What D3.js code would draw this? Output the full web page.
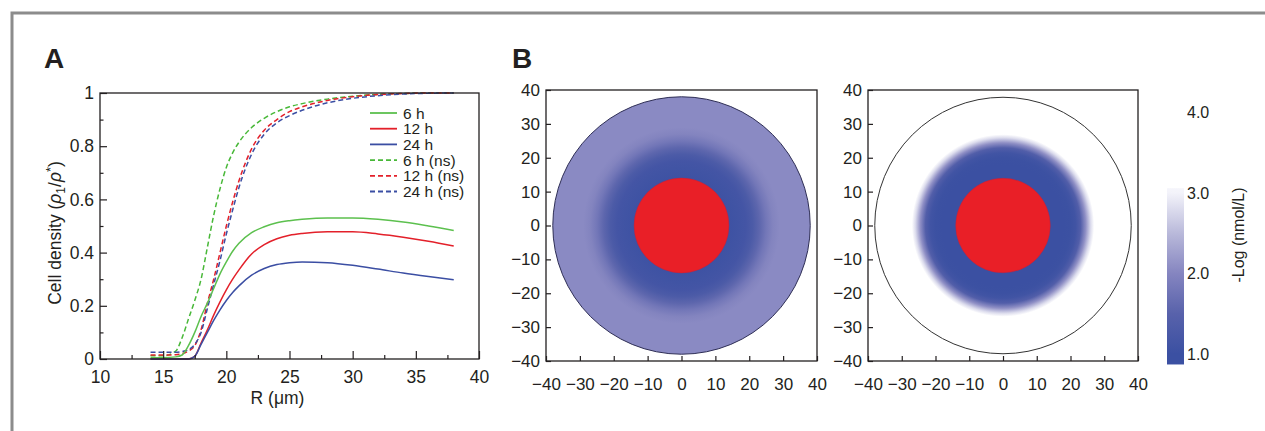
<!DOCTYPE html>
<html><head><meta charset="utf-8">
<script src="https://cdn.jsdelivr.net/npm/d3@7"></script>
<style>
body{margin:0;background:#fff}
svg{display:block}
text{font-family:"Liberation Sans",Arial,Helvetica,sans-serif;fill:#231f20}
</style>
</head><body>
<svg id="c" width="1265" height="431"></svg>
<script>
// ---------- DATA ----------
// Panel A: cell density vs R
const rValues = [14,15,16,16.5,17,17.5,18,18.5,19,19.5,20,20.5,21,22,23,24,25,26,28,30,32,34,36,38];
const solid6h  = [0.005,0.005,0.008,0.015,0.05,0.10,0.16,0.21,0.265,0.32,0.365,0.405,0.435,0.475,0.497,0.512,0.52,0.525,0.53,0.53,0.525,0.515,0.50,0.483];
const solid12h = [0,0,0,0,0,0.01,0.06,0.11,0.165,0.215,0.26,0.30,0.335,0.395,0.43,0.452,0.465,0.472,0.478,0.478,0.47,0.458,0.443,0.425];
const solid24h = [0,0,0,0,0,0.01,0.055,0.10,0.145,0.185,0.22,0.25,0.275,0.315,0.34,0.355,0.362,0.365,0.362,0.352,0.338,0.323,0.31,0.298];
const ns6h  = [0.012,0.012,0.03,0.08,0.15,0.22,0.30,0.42,0.54,0.64,0.72,0.775,0.815,0.87,0.905,0.93,0.948,0.96,0.977,0.988,0.995,0.998,1,1];
const ns12h = [0.015,0.015,0.016,0.02,0.03,0.05,0.11,0.21,0.30,0.40,0.50,0.59,0.67,0.79,0.86,0.90,0.93,0.948,0.972,0.986,0.994,0.998,1,1];
const ns24h = [0.025,0.025,0.025,0.028,0.035,0.055,0.10,0.19,0.28,0.37,0.47,0.56,0.645,0.77,0.845,0.888,0.915,0.935,0.963,0.98,0.99,0.996,0.999,1];
const seriesNames = ["6 h","12 h","24 h","6 h (ns)","12 h (ns)","24 h (ns)"];
const xTicksA = [10,15,20,25,30,35,40];
const xMinorA = [12.5,17.5,22.5,27.5,32.5,37.5];
const yTicksA = [0,0.2,0.4,0.6,0.8,1];
const yTickLabelsA = ["0","0.2","0.4","0.6","0.8","1"];
const yMinorA = [0.1,0.3,0.5,0.7,0.9];

// Panel B: radial concentration profiles (-log nmol/L) vs radius
const domainRadius = 38;
const cellRadius = 14;
const leftRadii  = [14,17,19,21,23,25,27,29,38];
const leftLogC   = [1.05,1.1,1.15,1.3,1.55,1.8,1.98,2.05,2.05];
const rightRadii = [14,18,20,21.5,23,24.5,26,27,38];
const rightLogC  = [1.0,1.0,1.02,1.1,1.4,2.1,2.8,3.3,3.5];
const bTicks = [-40,-30,-20,-10,0,10,20,30,40];
const bTickLabels = ["\u221240","\u221230","\u221220","\u221210","0","10","20","30","40"];

// Colour bar
const cbValues = [1.0,1.5,2.0,2.5,3.0,3.3];
const cbColors = ["#3b50a2","#5862ab","#8585c0","#b9b9da","#f3f3fa","#ffffff"];
const cbTicks = [1,2,3,4];
const cbTickLabels = ["1.0","2.0","3.0","4.0"];
const cbRange = [0.87,3.06];

// ---------- DRAW ----------
const svg = d3.select("#c");
const ink = "#231f20";

// outer frame
svg.append("path").attr("d","M12,431V13H1265").attr("fill","none").attr("stroke","#8c8c8c").attr("stroke-width",3);

// panel letters
svg.append("text").attr("x",44).attr("y",68).attr("font-size",28).attr("font-weight","bold").text("A");
svg.append("text").attr("x",512).attr("y",68).attr("font-size",28).attr("font-weight","bold").text("B");

// ---- Panel A ----
const xA = d3.scaleLinear([10,40],[100,479]);
const yA = d3.scaleLinear([0,1],[359,93]);
const gA = svg.append("g");

const series = [
  {v:solid6h,  c:"#5cc04e", d:null},
  {v:solid12h, c:"#e3202a", d:null},
  {v:solid24h, c:"#3b4ea3", d:null},
  {v:ns6h,  c:"#48b838", d:"5,3"},
  {v:ns12h, c:"#e3202a", d:"5,3"},
  {v:ns24h, c:"#3b4ea3", d:"5,3"}
];
const line = d3.line().x(d=>xA(d[0])).y(d=>yA(d[1])).curve(d3.curveMonotoneX);
[3,4,5,0,1,2].forEach(i=>{
  const s = series[i];
  gA.append("path").datum(rValues.map((r,j)=>[r,s.v[j]]))
    .attr("d",line).attr("fill","none").attr("stroke",s.c)
    .attr("stroke-width",1.5).attr("stroke-dasharray",s.d);
});

gA.append("rect").attr("x",xA(10)).attr("y",yA(1)).attr("width",xA(40)-xA(10)).attr("height",yA(0)-yA(1))
  .attr("fill","none").attr("stroke",ink).attr("stroke-width",1.3);

const axA = gA.append("g").attr("transform",`translate(0,${yA(0)})`)
  .call(d3.axisBottom(xA).tickValues(xTicksA).tickSize(-8).tickPadding(12).tickFormat(d3.format("d")));
const axAm = gA.append("g").attr("transform",`translate(0,${yA(0)})`)
  .call(d3.axisBottom(xA).tickValues(xMinorA).tickSize(-4).tickFormat(""));
const ayA = gA.append("g").attr("transform",`translate(${xA(10)},0)`)
  .call(d3.axisLeft(yA).tickValues(yTicksA).tickSize(-7).tickPadding(6).tickFormat((d,i)=>yTickLabelsA[i]));
const ayAm = gA.append("g").attr("transform",`translate(${xA(10)},0)`)
  .call(d3.axisLeft(yA).tickValues(yMinorA).tickSize(-3.5).tickFormat(""));
[axA,axAm,ayA,ayAm].forEach(a=>{
  a.select(".domain").remove();
  a.selectAll("line").attr("stroke",ink).attr("stroke-width",1.2);
  a.selectAll("text").attr("font-size",17.5).attr("font-family","Liberation Sans, Arial, sans-serif").attr("fill",ink);
});

gA.append("text").attr("x",(xA(10)+xA(40))/2 - 12).attr("y",404).attr("text-anchor","middle").attr("font-size",17.5)
  .text("R (\u03bcm)");
const yl = gA.append("text").attr("transform","translate(61,233) rotate(-90)").attr("text-anchor","middle").attr("font-size",17.5);
yl.append("tspan").text("Cell density (");
yl.append("tspan").attr("font-style","italic").text("\u03c1");
yl.append("tspan").attr("font-size",12).attr("dy",4).text("1");
yl.append("tspan").attr("dy",-4).text("/");
yl.append("tspan").attr("font-style","italic").text("\u03c1");
yl.append("tspan").attr("font-size",13).attr("dy",-6).text("*");
yl.append("tspan").attr("dy",6).text(")");

// legend
const legY = d3.scaleLinear([0,5],[113,191.5]);
seriesNames.forEach((n,i)=>{
  const s = series[i];
  gA.append("line").attr("x1",370).attr("x2",397).attr("y1",legY(i)).attr("y2",legY(i))
    .attr("stroke",s.c).attr("stroke-width",1.8).attr("stroke-dasharray",s.d);
  gA.append("text").attr("x",403).attr("y",legY(i)).attr("dy","0.36em").attr("font-size",15.5).text(n);
});

// ---- Panel B ----
const color = d3.scaleLinear(cbValues,cbColors).clamp(true);
const defs = svg.append("defs");

function heatPanel(x0,x1,radii,logc,id,strokeCol){
  const xs = d3.scaleLinear([-40,40],[x0,x1]);
  const ys = d3.scaleLinear([-40,40],[361,90]);
  const g = svg.append("g");
  const R = xs(domainRadius)-xs(0);
  const grad = defs.append("radialGradient").attr("id",id).attr("gradientUnits","userSpaceOnUse")
    .attr("cx",xs(0)).attr("cy",ys(0)).attr("r",R);
  radii.forEach((r,i)=>grad.append("stop").attr("offset",r/domainRadius).attr("stop-color",color(logc[i])));
  g.append("circle").attr("cx",xs(0)).attr("cy",ys(0)).attr("r",R).attr("fill",`url(#${id})`)
    .attr("stroke",strokeCol).attr("stroke-width",1);
  g.append("circle").attr("cx",xs(0)).attr("cy",ys(0)).attr("r",xs(cellRadius)-xs(0)).attr("fill","#e91f27")
    .attr("stroke","#c81e3a").attr("stroke-width",0.5);
  g.append("rect").attr("x",xs(-40)).attr("y",ys(40)).attr("width",xs(40)-xs(-40)).attr("height",ys(-40)-ys(40))
    .attr("fill","none").attr("stroke",ink).attr("stroke-width",1.3);
  const ax = g.append("g").attr("transform",`translate(0,${ys(-40)})`)
    .call(d3.axisBottom(xs).tickValues(bTicks).tickSize(-5).tickPadding(17).tickFormat((d,i)=>bTickLabels[i]));
  const ay = g.append("g").attr("transform",`translate(${xs(-40)},0)`)
    .call(d3.axisLeft(ys).tickValues(bTicks).tickSize(-5).tickPadding(6).tickFormat((d,i)=>bTickLabels[i]));
  [ax,ay].forEach(a=>{
    a.select(".domain").remove();
    a.selectAll("line").attr("stroke",ink).attr("stroke-width",1.2);
    a.selectAll("text").attr("font-size",17).attr("font-family","Liberation Sans, Arial, sans-serif").attr("fill",ink);
  });
}
heatPanel(546,817,leftRadii,leftLogC,"gl","#2e2e55");
heatPanel(868,1138,rightRadii,rightLogC,"gr","#333333");

// ---- Colour bar ----
const yC = d3.scaleLinear([1,3],[354,193]);
const lg = defs.append("linearGradient").attr("id","cb").attr("gradientUnits","userSpaceOnUse")
  .attr("x1",0).attr("x2",0).attr("y1",yC(cbRange[0])).attr("y2",yC(cbRange[1]));
const cbStops = [cbRange[0]].concat(cbValues.filter(v=>v<=cbRange[1])).concat([cbRange[1]]);
cbStops.forEach(v=>lg.append("stop").attr("offset",(v-cbRange[0])/(cbRange[1]-cbRange[0])).attr("stop-color",color(v)));
svg.append("rect").attr("x",1167).attr("y",yC(cbRange[1])).attr("width",17).attr("height",yC(cbRange[0])-yC(cbRange[1]))
  .attr("fill","url(#cb)");
cbTicks.forEach((t,i)=>{
  svg.append("text").attr("x",1187).attr("y",yC(t)).attr("dy","0.36em").attr("font-size",16).text(cbTickLabels[i]);
});
svg.append("text").attr("transform","translate(1244,235) rotate(-90)").attr("text-anchor","middle").attr("font-size",16)
  .text("-Log (nmol/L)");
</script>
</body></html>
